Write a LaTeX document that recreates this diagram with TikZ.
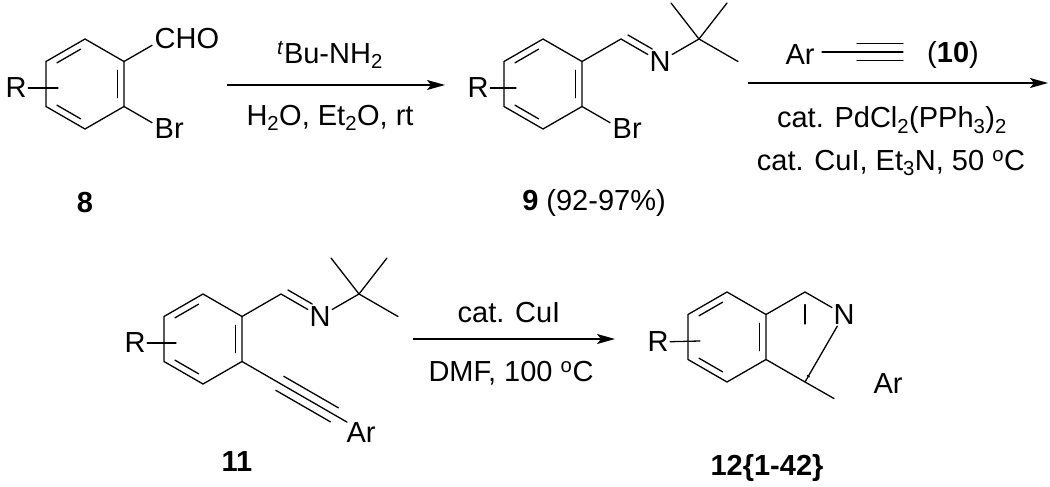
\documentclass[tikz,border=0pt]{standalone}
\usepackage{fontspec}
\setmainfont{Liberation Sans}
\usetikzlibrary{calc,arrows.meta}
\tikzset{
  bond/.style={line width=1.3pt, line cap=round},
  atom/.style={inner sep=1.5pt, font=\fontsize{29}{34}\selectfont},
  txt/.style={inner sep=0pt, font=\fontsize{29}{34}\selectfont},
  rxn/.style={line width=1.3pt, -{Stealth[length=18pt,width=10pt,inset=4pt]}},
}
\newcommand\innerb[3]{\draw[bond,shorten <=5pt,shorten >=5pt] ($(#1)!0.17!(#3)$) -- ($(#2)!0.17!(#3)$);}
\newcommand\benz[3]{%
  \coordinate (#1c) at (#2,#3);
  \coordinate (#1t) at ($(#1c)+(0,-45)$);
  \coordinate (#1u) at ($(#1c)+(39,-22.5)$);
  \coordinate (#1s) at ($(#1c)+(39,22.5)$);
  \coordinate (#1b) at ($(#1c)+(0,45)$);
  \coordinate (#1l) at ($(#1c)+(-39,22.5)$);
  \coordinate (#1k) at ($(#1c)+(-39,-22.5)$);
  \draw[bond] (#1t)--(#1u)--(#1s)--(#1b)--(#1l)--(#1k)--cycle;
  \innerb{#1k}{#1t}{#1c}\innerb{#1u}{#1s}{#1c}\innerb{#1b}{#1l}{#1c}%
}
\newcommand\imine[2]{% ring prefix, name prefix
  \coordinate (#2h) at ($(#1u)+(39,-22.5)$);
  \node[atom] (#2n) at ($(#2h)+(39,22.5)$) {N};
  \coordinate (#2q) at ($(#2n.center)+(39,-22.5)$);
  \draw[bond] (#1u) -- (#2h) -- (#2n);
  \draw[bond,shorten <=4pt,shorten >=13pt] ($(#2h)+(3.5,-6)$) -- ($(#2n.center)+(3.5,-6)$);
  \draw[bond] (#2n) -- (#2q);
  \draw[bond] (#2q) -- ++(-28,-36);
  \draw[bond] (#2q) -- ++(28,-36);
  \draw[bond] (#2q) -- ++(39,22.5);
}
\begin{document}
\begin{tikzpicture}[x=1pt,y=-1pt]
\useasboundingbox (0,0) rectangle (1050,487);
% ---------- 8 ----------
\benz{A}{85}{84}
\node[atom] (Ar) at (16,88) {R};
\draw[bond] (Ar) -- ($(Ac)+(-27,4)$);
\coordinate (Ao) at ($(Au)+(39,-22.5)$);
\node[atom,anchor=west,xshift=-10pt] (cho) at (Ao) {CHO};
\draw[bond] (Au) -- ($(Au)!0.72!(Ao)$);
\coordinate (Abr) at ($(As)+(39,22.5)$);
\node[atom,anchor=west,xshift=-10pt] (brA) at (Abr) {Br};
\draw[bond] (As) -- ($(As)!0.72!(Abr)$);
\node[txt] (l8) at (85,203) {\bfseries 8};
% ---------- arrow 1 ----------
\coordinate (a1s) at (227,85); \coordinate (a1e) at (445,85);
\draw[rxn] (a1s) -- (a1e);
\node[txt] (t1) at (330,55) {\textsuperscript{\textit{t}}Bu-NH\textsubscript{2}};
\node[txt] (t2) at (330,118) {H\textsubscript{2}O, Et\textsubscript{2}O, rt};
% ---------- 9 ----------
\benz{B}{543}{84}
\node[atom] (Br) at (478,88) {R};
\draw[bond] (Br) -- ($(Bc)+(-27,4)$);
\imine{B}{I}
\coordinate (Bbr) at ($(Bs)+(39,22.5)$);
\node[atom,anchor=west,xshift=-10pt] (brB) at (Bbr) {Br};
\draw[bond] (Bs) -- ($(Bs)!0.72!(Bbr)$);
\node[txt] (l9) at (594,203) {\textbf{9} (92-97\%)};
% ---------- arrow 2 ----------
\coordinate (a2s) at (748,83); \coordinate (a2e) at (1048,83);
\draw[rxn] (a2s) -- (a2e);
\node[txt] (ar10) at (800,55) {Ar};
\coordinate (y1) at (822,52); \coordinate (y2) at (857,52); \coordinate (y3) at (903,52);
\draw[bond] (y1) -- (y3);
\draw[bond] ($(y2)+(0,-8.5)$) -- ($(y3)+(0,-8.5)$);
\draw[bond] ($(y2)+(0,8.5)$) -- ($(y3)+(0,8.5)$);
\node[txt] (n10) at (953,55) {(\textbf{10})};
\node[txt] (t3) at (892,120) {cat. PdCl\textsubscript{2}(PPh\textsubscript{3})\textsubscript{2}};
\node[txt] (t4) at (891,163) {cat. CuI, Et\textsubscript{3}N, 50 \textsuperscript{o}C};
% ---------- 11 ----------
\benz{C}{203}{339}
\node[atom] (Cr) at (135,343) {R};
\draw[bond] (Cr) -- ($(Cc)+(-27,4)$);
\imine{C}{J}
\coordinate (Cy) at ($(Cs)+(105,60.6)$);
\draw[bond] (Cs) -- (Cy);
\draw[bond] ($(Cs)!0.36!(Cy)+(-4,7)$) -- ($(Cs)!0.88!(Cy)+(-4,7)$);
\draw[bond] ($(Cs)!0.36!(Cy)+(4,-7)$) -- ($(Cs)!0.88!(Cy)+(4,-7)$);
\node[txt] (arC) at (361,433) {Ar};
\node[txt] (l11) at (237,462) {\bfseries 11};
% ---------- arrow 3 ----------
\coordinate (a3s) at (413,339); \coordinate (a3e) at (615,339);
\draw[rxn] (a3s) -- (a3e);
\node[txt] (t5) at (509,313) {cat. CuI};
\node[txt] (t6) at (511,373) {DMF, 100 \textsuperscript{o}C};
% ---------- 12 ----------
\benz{D}{727}{337}
\node[atom] (Dr) at (658,342) {R};
\draw[bond] (Dr) -- ($(Dc)+(-27,4)$);
\coordinate (Et) at ($(Du)+(39,-22.5)$);
\node[atom] (En) at ($(Et)+(39,22.5)$) {N};
\coordinate (Eq) at ($(Ds)+(39,22.5)$);
\coordinate (Ep) at ($(Ds)+(0,0)$);
\coordinate (Ee) at ($(Eq)+(0,-45)$);
\coordinate (Ec) at ($(Dc)+(78,0)$);
\draw[bond] (Du) -- (Et) -- (En);
\draw[bond] (En) -- (Eq) -- (Ds);
\draw[bond,shorten <=5pt,shorten >=13pt] ($(Et)!0.17!(Ec)$) -- ($(Ee)!0.17!(Ec)$);
\draw[bond,shorten <=5pt,shorten >=5pt] ($(Eq)!0.17!(Ec)$) -- ($(Ds)!0.17!(Ec)+(39,22.5)$);
\coordinate (Ea) at ($(Eq)+(29,16.5)$);
\draw[bond] (Eq) -- (Ea);
\node[txt] (arD) at (888,384) {Ar};
\node[txt] (l12) at (767,468) {\bfseries 12\{1-42\}};
\end{tikzpicture}
\end{document}
